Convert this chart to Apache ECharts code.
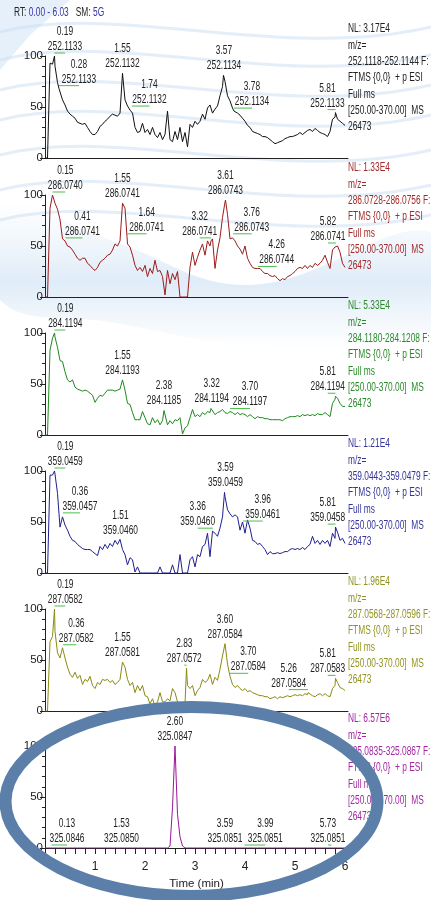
<!DOCTYPE html>
<html>
<head>
<meta charset="utf-8">
<script src="https://cdn.jsdelivr.net/npm/echarts@6/dist/echarts.min.js"></script>
<style>
  html, body { margin: 0; padding: 0; background: #ffffff; }
  #chart { width: 431px; height: 900px; }
</style>
</head>
<body>
<div id="chart"></div>
<script>
// Extracted-ion chromatograms, relative abundance (%) sampled every 0.05 min from 0.00 to 6.00
const scanTimeStep = 0.05;

const trace252 = [
  0, 0, 93, 92, 90, 74, 67, 57, 52, 46,
  43, 41, 39, 35, 34, 33, 34, 30, 26, 23,
  23, 26, 31, 33, 36, 38, 41, 43, 42, 41,
  44, 83, 57, 51, 47, 44, 30, 25, 26, 34,
  25, 28, 23, 30, 23, 20, 25, 18, 23, 46,
  18, 16, 26, 18, 30, 16, 25, 11, 33, 30,
  36, 33, 36, 43, 38, 49, 52, 44, 48, 51,
  61, 70, 75, 61, 56, 49, 46, 44, 42, 39,
  36, 32, 30, 26, 25, 24, 23, 21, 21, 20,
  18, 16, 14, 15, 16, 17, 19, 20, 21, 21,
  22, 23, 25, 23, 25, 27, 28, 26, 29, 27,
  25, 24, 23, 21, 26, 38, 40, 38, 36, 34,
  32
];
const trace286 = [
  0, 0, 87, 100, 92, 86, 76, 57, 55, 50,
  49, 46, 42, 38, 36, 38, 38, 33, 31, 28,
  26, 29, 34, 36, 38, 41, 42, 46, 52, 50,
  55, 92, 87, 52, 49, 41, 31, 26, 29, 25,
  31, 20, 28, 23, 36, 25, 26, 20, 2, 26,
  13, 23, 17, 25, 0, 0, 0, 0, 29, 44,
  31, 39, 46, 52, 41, 55, 50, 57, 28, 46,
  58, 78, 93, 81, 57, 58, 55, 50, 47, 42,
  50, 38, 33, 29, 28, 28, 28, 25, 23, 23,
  21, 20, 21, 18, 16, 18, 17, 20, 21, 23,
  25, 28, 29, 28, 31, 28, 31, 29, 33, 31,
  33, 36, 41, 34, 28, 46, 49, 50, 44, 33,
  29
];
const trace284 = [
  0, 0, 83, 95, 96, 86, 73, 72, 62, 54,
  52, 54, 47, 45, 44, 43, 44, 43, 41, 39,
  32, 36, 39, 38, 41, 44, 44, 44, 43, 44,
  45, 54, 44, 31, 30, 22, 15, 15, 15, 23,
  17, 11, 10, 17, 12, 15, 10, 14, 25, 10,
  14, 11, 15, 14, 17, 1, 7, 9, 17, 25,
  18, 20, 18, 22, 20, 23, 22, 26, 20, 22,
  23, 25, 22, 21, 23, 22, 20, 22, 20, 21,
  20, 18, 20, 18, 16, 18, 17, 17, 16, 16,
  15, 15, 15, 15, 15, 14, 16, 17, 18, 18,
  18, 19, 18, 20, 19, 20, 19, 20, 19, 21,
  20, 20, 22, 20, 18, 31, 35, 36, 31, 28,
  28
];
const trace359 = [
  0, 0, 96, 96, 97, 78, 45, 55, 47, 42,
  36, 32, 31, 28, 26, 24, 23, 23, 23, 21,
  19, 17, 26, 23, 28, 24, 29, 26, 32, 28,
  33, 23, 18, 8, 15, 13, 1, 6, 0, 0,
  0, 0, 0, 0, 0, 0, 6, 0, 0, 0,
  0, 8, 0, 0, 18, 0, 0, 0, 13, 16,
  6, 18, 16, 26, 28, 39, 16, 41, 39, 36,
  44, 55, 75, 62, 58, 55, 57, 55, 42, 50,
  39, 52, 44, 32, 31, 28, 29, 26, 23, 18,
  21, 19, 19, 20, 19, 20, 21, 21, 23, 24,
  23, 24, 23, 25, 23, 26, 28, 36, 29, 32,
  28, 32, 29, 32, 26, 39, 34, 40, 32, 34,
  29
];
const trace287 = [
  0, 0, 68, 73, 78, 57, 52, 62, 52, 43,
  36, 33, 38, 32, 35, 26, 31, 29, 34, 25,
  22, 28, 26, 31, 30, 31, 28, 30, 26, 28,
  31, 48, 43, 31, 25, 28, 18, 25, 20, 25,
  15, 14, 7, 12, 5, 9, 18, 9, 9, 12,
  10, 22, 18, 9, 4, 2, 7, 25, 22, 25,
  15, 20, 23, 31, 28, 30, 36, 26, 33, 30,
  41, 54, 66, 46, 35, 26, 23, 25, 22, 20,
  22, 19, 20, 18, 17, 16, 15, 15, 14, 14,
  12, 13, 14, 12, 14, 13, 14, 15, 14, 15,
  16, 15, 16, 15, 17, 16, 18, 15, 14, 16,
  17, 15, 17, 15, 14, 22, 25, 28, 23, 22,
  20
];
const trace325 = [
  0, 0, 0, 0, 0, 0, 0, 0, 0, 0,
  0, 0, 0, 0, 0, 0, 0, 0, 0, 0,
  0, 0, 0, 0, 0, 0, 0, 0, 0, 0,
  0, 0, 0, 0, 0, 0, 0, 0, 0, 0,
  0, 0, 0, 0, 0, 0, 0, 0, 0, 0,
  2, 40, 100, 33, 11, 2, 0, 0, 0, 0,
  0, 0, 0, 0, 0, 0, 0, 0, 0, 0,
  0, 0, 0, 0, 0, 0, 0, 0, 0, 0,
  0, 0, 0, 0, 0, 0, 0, 0, 0, 0,
  0, 0, 0, 0, 0, 0, 0, 0, 0, 0,
  0, 0, 0, 0, 0, 0, 0, 0, 0, 0,
  0, 0, 0, 0, 0, 0, 0, 0, 0, 0,
  0
];

// Annotated peaks: retention time (min), m/z, relative abundance at that scan
const peakRt252 = [0.19, 0.28, 1.55, 1.74, 3.57, 3.78, 5.81];
const peakMz252 = ['252.1133', '252.1133', '252.1132', '252.1132', '252.1134', '252.1134', '252.1133'];
const peakInt252 = [100, 68, 83, 48, 81, 46, 44.5];

const peakRt286 = [0.15, 0.41, 1.55, 1.64, 3.32, 3.61, 3.76, 4.26, 5.82];
const peakMz286 = ['286.0740', '286.0741', '286.0741', '286.0741', '286.0741', '286.0743', '286.0743', '286.0744', '286.0741'];
const peakInt286 = [100, 55, 92, 59, 55, 95, 59, 27, 50];

const peakRt284 = [0.19, 1.55, 2.38, 3.32, 3.70, 5.81];
const peakMz284 = ['284.1194', '284.1193', '284.1185', '284.1194', '284.1197', '284.1194'];
const peakInt284 = [100, 54, 24, 26, 23, 38];

const peakRt359 = [0.19, 0.36, 1.51, 3.36, 3.59, 3.96, 5.81];
const peakMz359 = ['359.0459', '359.0457', '359.0460', '359.0460', '359.0459', '359.0461', '359.0458'];
const peakInt359 = [100, 56, 32, 41, 79, 48, 45];

const peakRt287 = [0.19, 0.36, 1.55, 2.83, 3.60, 3.70, 5.26, 5.81];
const peakMz287 = ['287.0582', '287.0582', '287.0581', '287.0572', '287.0584', '287.0584', '287.0584', '287.0583'];
const peakInt287 = [100, 62, 48, 42, 66, 34, 18, 32];

const peakRt325 = [0.13, 1.53, 2.60, 3.59, 3.99, 5.73];
const peakMz325 = ['325.0846', '325.0850', '325.0847', '325.0851', '325.0851', '325.0851'];
const peakInt325 = [0, 0, 100, 0, 0, 0];

// Trace headers
const nlLabels = ['NL: 3.17E4', 'NL: 1.33E4', 'NL: 5.33E4', 'NL: 1.21E4', 'NL: 1.96E4', 'NL: 6.57E6'];
const mzRanges = ['252.1118-252.1144 F:', '286.0728-286.0756 F:', '284.1180-284.1208 F:',
                  '359.0443-359.0479 F:', '287.0568-287.0596 F:', '325.0835-325.0867 F:'];
const scanFilterLines = ['m/z=', '', 'FTMS {0,0}  + p ESI', 'Full ms', '[250.00-370.00]  MS', '26473'];
const rtRangeText = '0.00 - 6.03';
const smoothingText = '5G';

// Axis ticks
const timeTickLabels = [1, 2, 3, 4, 5, 6];
const abundanceTicks = [0, 50, 100];

// ---- layout & styling ----
const traces = [trace252, trace286, trace284, trace359, trace287, trace325];
const peakRts = [peakRt252, peakRt286, peakRt284, peakRt359, peakRt287, peakRt325];
const peakMzs = [peakMz252, peakMz286, peakMz284, peakMz359, peakMz287, peakMz325];
const peakInts = [peakInt252, peakInt286, peakInt284, peakInt359, peakInt287, peakInt325];

// horizontal shift (px) of each peak label relative to its apex
const labelShift = [
  [10.5, 20, 0, 17.5, 0.5, 18, -8],
  [12.8, 17, 0, 19.7, -11.3, 0, 18.7, 18.7, -8],
  [10.8, 0, 0, 0.7, 20, -7.8],
  [10.8, 17, 0, -15.3, 1, 19.7, -7.8],
  [10.8, 13.3, 0, -2.2, 0, 18.3, -19.3, -7.8],
  [15.5, 0, 0, 0.5, 20.8, -3.5]
];

const lineColors = ['#111111', '#9a1c1c', '#1d8a1d', '#1f1f8f', '#8a8a12', '#9a169a'];
const headColors = ['#222222', '#a32a2a', '#2a8a2a', '#34349c', '#939322', '#a226a2'];
const ZERO_Y = [158, 297, 435, 573, 711, 848];
const PLOT_H = 102;
const PLOT_LEFT = 45;
const PLOT_W = 303;
const X_MAX = 6.06;
const FONT = '"Liberation Sans", Arial, sans-serif';
const NARROW = '"Liberation Sans Narrow", "Liberation Sans", Arial, sans-serif';
const FONT_SIZE = 12.5;
const SQUEEZE = 0.67;
const INK = '#222222';

function buildTrace(values, rts, ints) {
  const pts = [];
  values.forEach((v, i) => {
    const t = Math.round(i * scanTimeStep * 100) / 100;
    if (!rts.some(r => Math.abs(r - t) < 1e-6)) pts.push([t, v]);
  });
  rts.forEach((r, k) => pts.push([r, ints[k]]));
  pts.sort((a, b) => a[0] - b[0]);
  return pts;
}

function squeezedText(x, y, text, color, align) {
  return {
    type: 'text', x: x, y: y, scaleX: SQUEEZE,
    style: { x: 0, y: 0, text: text, fill: color, fontSize: FONT_SIZE, fontFamily: FONT,
             align: align || 'center', verticalAlign: 'middle' }
  };
}

function annotationRenderer(panel) {
  return function (params, api) {
    const t = api.value(0), v = api.value(1), k = api.value(2);
    const p = api.coord([t, v]);
    const dx = labelShift[panel][k];
    const cx = p[0] + dx;
    const children = [];
    if (Math.abs(dx) > 1) {
      children.push({ type: 'line',
        shape: { x1: p[0], y1: p[1] - 3, x2: cx, y2: p[1] - 3 },
        style: { stroke: '#4cbf4c', lineWidth: 1 } });
    }
    children.push(squeezedText(cx, p[1] - 24.5, peakRts[panel][k].toFixed(2), INK));
    children.push(squeezedText(cx, p[1] - 9.5, peakMzs[panel][k], INK));
    return { type: 'group', children: children };
  };
}

const grids = [], xAxes = [], yAxes = [], series = [], graphics = [];

// pale background swirls
graphics.push({ type: 'polygon', z: -10, silent: true,
  shape: { smooth: 0.4, points: [[0, 205], [110, 240], [250, 285], [431, 232], [431, 330], [260, 345], [110, 322], [0, 300]] },
  style: { fill: { type: 'linear', x: 0, y: 0, x2: 0, y2: 1, colorStops: [
    { offset: 0, color: 'rgba(205,225,243,0.0)' },
    { offset: 0.55, color: 'rgba(198,220,242,0.55)' },
    { offset: 1, color: 'rgba(205,225,243,0.0)' }] } } });
[12, 40, 70, 100, 135, 170, 200].forEach((y0) => {
  graphics.push({ type: 'bezierCurve', z: -10, silent: true,
    shape: { x1: 0, y1: y0 + 20, cpx1: 120, cpy1: y0 - 10, cpx2: 280, cpy2: y0 + 50, x2: 431, y2: y0 + 15 },
    style: { fill: null, stroke: 'rgba(196,218,240,0.45)', lineWidth: 3 } });
});
graphics.push({ type: 'polygon', z: -10, silent: true,
  shape: { points: [[0, 0], [70, 0], [30, 35], [0, 70]] },
  style: { fill: 'rgba(200,222,243,0.45)' } });

const minorTimeTicks = [];
for (let k = 0; k <= 30; k++) minorTimeTicks.push(k / 5);

for (let i = 0; i < 6; i++) {
  const last = i === 5;
  grids.push({ left: PLOT_LEFT, top: ZERO_Y[i] - PLOT_H, width: PLOT_W, height: PLOT_H });
  xAxes.push({
    gridIndex: i, type: 'value', min: 0, max: X_MAX,
    axisLine: { show: true, onZero: false, lineStyle: { color: INK, width: 1 } },
    axisTick: last ? { show: true, length: 6, customValues: minorTimeTicks,
      lineStyle: { color: INK } } : { show: false },
    axisLabel: last ? { show: true, customValues: timeTickLabels, color: INK, fontSize: 12,
      fontFamily: NARROW, margin: 13 } : { show: false },
    splitLine: { show: false },
    name: last ? 'Time (min)' : '', nameLocation: 'middle', nameGap: 30,
    nameTextStyle: { color: INK, fontSize: 11.5, fontFamily: NARROW }
  });
  yAxes.push({
    gridIndex: i, type: 'value', min: 0, max: 100, interval: 50,
    axisLine: { show: true, lineStyle: { color: INK, width: 1 } },
    axisTick: { show: true, length: 5, lineStyle: { color: INK } },
    minorTick: { show: true, splitNumber: 5, length: 3, lineStyle: { color: INK } },
    axisLabel: { color: INK, fontSize: 11.5, fontFamily: NARROW, margin: 2,
      customValues: abundanceTicks },
    splitLine: { show: false }
  });
  series.push({
    type: 'line', xAxisIndex: i, yAxisIndex: i, showSymbol: false, symbol: 'none',
    data: buildTrace(traces[i], peakRts[i], peakInts[i]),
    lineStyle: { color: lineColors[i], width: 1 }, z: 3, silent: true
  });
  series.push({
    type: 'custom', xAxisIndex: i, yAxisIndex: i, clip: false, z: 4, silent: true,
    data: peakRts[i].map((r, k) => [r, peakInts[i][k], k]),
    renderItem: annotationRenderer(i)
  });
  // header block at the right of each trace
  const head = [nlLabels[i], scanFilterLines[0], mzRanges[i]].concat(scanFilterLines.slice(2));
  head.forEach((txt, k) => {
    graphics.push(Object.assign(squeezedText(348, ZERO_Y[i] - 129 + k * 16.3, txt, headColors[i], 'left'),
      { z: 5, silent: true }));
  });
}

// run header
graphics.push({ type: 'text', x: 14, y: 13, scaleX: SQUEEZE, z: 5, silent: true,
  style: { x: 0, y: 0, text: '{a|RT: }{b|' + rtRangeText + '}{a|   SM: }{b|' + smoothingText + '}',
    verticalAlign: 'middle', align: 'left',
    rich: { a: { fill: INK, fontSize: FONT_SIZE, fontFamily: FONT },
            b: { fill: '#3333aa', fontSize: FONT_SIZE, fontFamily: FONT } } } });

// highlight ring round the last trace
graphics.push({ type: 'ellipse', z: 100, silent: true,
  shape: { cx: 191.5, cy: 801.5, rx: 186, ry: 94.5 },
  style: { fill: null, stroke: '#5b7fa9', lineWidth: 12 } });

const chart = echarts.init(document.getElementById('chart'), null, { renderer: 'canvas' });
chart.setOption({
  backgroundColor: '#ffffff',
  animation: false,
  grid: grids, xAxis: xAxes, yAxis: yAxes, series: series,
  graphic: { elements: graphics }
});
</script>
</body>
</html>
